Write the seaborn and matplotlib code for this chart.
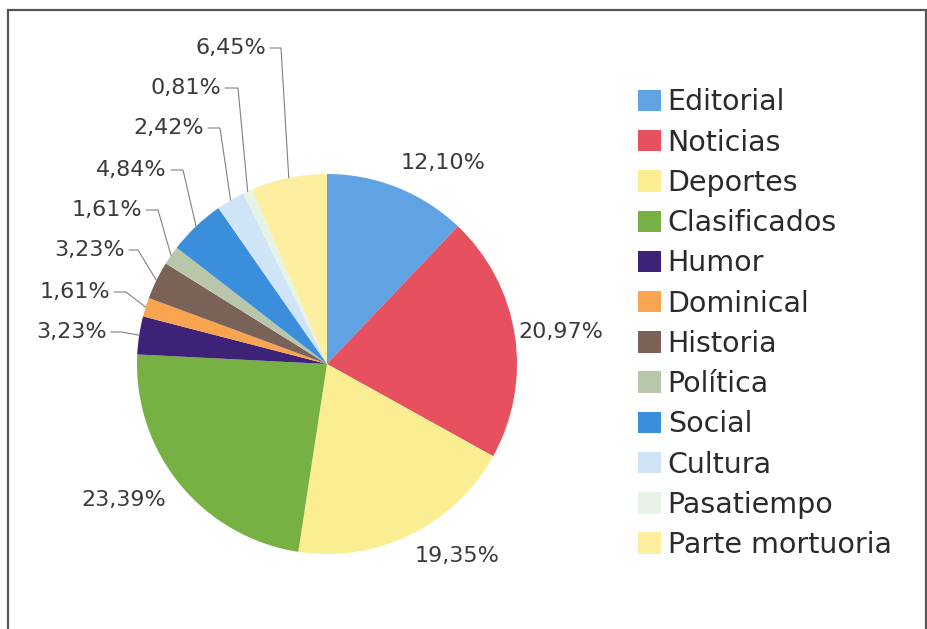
import matplotlib
matplotlib.use("Agg")
import matplotlib.pyplot as plt
import seaborn as sns
import numpy as np
from matplotlib.patches import Rectangle

categories = ["Editorial", "Noticias", "Deportes", "Clasificados", "Humor", "Dominical",
              "Historia", "Política", "Social", "Cultura", "Pasatiempo", "Parte mortuoria"]
values = [12.10, 20.97, 19.35, 23.39, 3.23, 1.61, 3.23, 1.61, 4.84, 2.42, 0.81, 6.45]
labels = ["12,10%", "20,97%", "19,35%", "23,39%", "3,23%", "1,61%", "3,23%", "1,61%",
          "4,84%", "2,42%", "0,81%", "6,45%"]
colors = ["#5fa3e3", "#e6505f", "#fbee92", "#77b043", "#3d2278", "#f9a451",
          "#7a6258", "#b8c7a9", "#3b8edb", "#cfe4f6", "#e5f4e4", "#fdef9f"]

sns.set_theme(style="white")
plt.rcParams["font.family"] = ["DejaVu Sans"]

W, H = 928, 629
fig = plt.figure(figsize=(W / 100, H / 100), dpi=100)
fig.patch.set_facecolor("white")

# frame
fig.patches.append(Rectangle((8 / W, -0.05), (926 - 8) / W, (H - 10) / H + 0.05,
                             transform=fig.transFigure, fill=False,
                             edgecolor="#555555", linewidth=1.6))

cx, cy, R = 327, 364, 190
ax = fig.add_axes([(cx - R) / W, (H - cy - R) / H, 2 * R / W, 2 * R / H])

pal = sns.color_palette(colors)
wedges, _ = ax.pie(values, colors=pal, startangle=90, counterclock=False,
                   radius=1.0, wedgeprops=dict(linewidth=0))
ax.set_xlim(-1, 1)
ax.set_ylim(-1, 1)
ax.axis("off")


def px2d(px, py):
    return (px - cx) / R, (cy - py) / R


txtc = "#3a3a3a"
fs = 16
# big slice labels (center positions in px)
big_pos = {0: (443, 163), 1: (561, 332), 2: (457, 556), 3: (124, 500)}
for i, (px, py) in big_pos.items():
    x, y = px2d(px, py)
    ax.text(x, y, labels[i], ha="center", va="center", fontsize=fs, color=txtc,
            clip_on=False)

# small slice labels with leader lines: (text right x, y, corner x)
small_pos = {11: (266, 48, 281), 10: (221, 88, 238), 9: (204, 128, 220),
             8: (167, 170, 183), 7: (142, 210, 158), 6: (125, 250, 138),
             5: (110, 292, 126), 4: (107, 332, 122)}
for i, (tx, ty, kx) in small_pos.items():
    w = wedges[i]
    mid = np.deg2rad((w.theta1 + w.theta2) / 2)
    ax_, ay_ = np.cos(mid), np.sin(mid)
    x, y = px2d(tx, ty)
    kxd, _ = px2d(kx, ty)
    ax.text(x, y, labels[i], ha="right", va="center", fontsize=fs, color=txtc,
            clip_on=False)
    ax.plot([x + 4 / R, kxd, ax_], [y, y, ay_], color="#808080", lw=0.8,
            clip_on=False, solid_joinstyle="miter")

leg = fig.legend(wedges, categories, loc="upper left",
                 bbox_to_anchor=(627 / W, (H - 77) / H), frameon=False,
                 fontsize=20.5, handlelength=0.78, handleheight=0.78,
                 handletextpad=0.25, labelspacing=0.43, borderaxespad=0)
for t in leg.get_texts():
    t.set_color("#2a2a2a")

fig.savefig("out.png", dpi=100, facecolor="white")
